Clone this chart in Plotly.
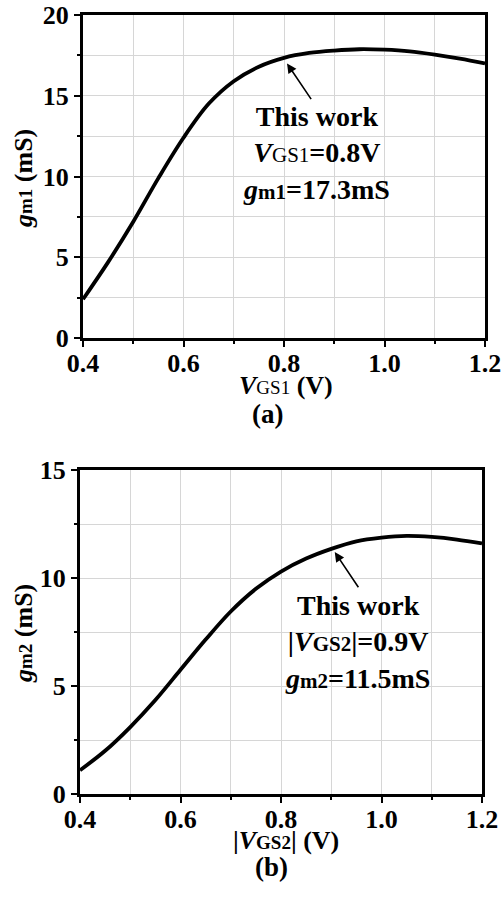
import plotly.graph_objects as go

# ---- data ----
vgs1 = [0.40, 0.45, 0.50, 0.55, 0.60, 0.65, 0.70, 0.75, 0.80, 0.85, 0.90, 0.95, 1.00, 1.05, 1.10, 1.15, 1.20]
gm1 = [2.4, 4.7, 7.2, 9.9, 12.4, 14.5, 15.9, 16.8, 17.35, 17.65, 17.8, 17.88, 17.85, 17.75, 17.55, 17.3, 17.0]

vgs2 = [0.40, 0.45, 0.50, 0.55, 0.60, 0.65, 0.70, 0.75, 0.80, 0.85, 0.90, 0.95, 1.00, 1.05, 1.10, 1.15, 1.20]
gm2 = [1.1, 2.0, 3.1, 4.35, 5.75, 7.15, 8.45, 9.5, 10.3, 10.9, 11.35, 11.7, 11.87, 11.95, 11.9, 11.78, 11.6]

x_ticks = [0.4, 0.6, 0.8, 1.0, 1.2]
x_ticklabels = ["0.4", "0.6", "0.8", "1.0", "1.2"]
y1_ticks = [0, 5, 10, 15, 20]
y2_ticks = [0, 5, 10, 15]

FONT = "Liberation Serif, Times New Roman, serif"
W, H = 502, 898

def px_x(p):
    return p / W

def px_y(p):
    return (H - p) / H

fig = go.Figure()
fig.add_trace(go.Scatter(x=vgs1, y=gm1, mode="lines", line=dict(color="black", width=3.8, shape="spline"),
                         xaxis="x", yaxis="y", showlegend=False, hoverinfo="skip"))
fig.add_trace(go.Scatter(x=vgs2, y=gm2, mode="lines", line=dict(color="black", width=3.8, shape="spline"),
                         xaxis="x2", yaxis="y2", showlegend=False, hoverinfo="skip"))

def xaxis(domain, anchor):
    return dict(domain=domain, anchor=anchor, range=[0.4, 1.2], tickvals=x_ticks, ticktext=x_ticklabels,
                automargin=False, ticklabelstandoff=-6,
                showline=True, linecolor="black", linewidth=3, mirror=True,
                ticks="outside", ticklen=6, tickwidth=2, tickcolor="black",
                showgrid=True, gridcolor="#d6d6d6", gridwidth=1, zeroline=False,
                minor=dict(dtick=0.1, tick0=0.4, ticks="outside", ticklen=3, tickwidth=2, tickcolor="black",
                           showgrid=True, gridcolor="#d6d6d6", gridwidth=1),
                tickfont=dict(family=FONT, size=26, color="black", weight="bold"), fixedrange=True)

def yaxis(domain, anchor, rng, ticks):
    return dict(domain=domain, anchor=anchor, range=rng, tickvals=ticks,
                automargin=False,
                showline=True, linecolor="black", linewidth=3, mirror=True,
                ticks="outside", ticklen=6, tickwidth=2, tickcolor="black",
                showgrid=True, gridcolor="#d6d6d6", gridwidth=1, zeroline=False,
                minor=dict(dtick=2.5, tick0=0, ticks="outside", ticklen=3, tickwidth=2, tickcolor="black",
                           showgrid=True, gridcolor="#d6d6d6", gridwidth=1),
                tickfont=dict(family=FONT, size=26, color="black", weight="bold"), fixedrange=True)

fig.update_layout(
    width=W, height=H, margin=dict(l=0, r=0, t=0, b=0, autoexpand=False),
    paper_bgcolor="white", plot_bgcolor="white",
    font=dict(family=FONT, color="black"),
    xaxis=xaxis([px_x(83), px_x(485)], "y"),
    yaxis=yaxis([px_y(338), px_y(15)], "x", [0, 20], y1_ticks),
    xaxis2=xaxis([px_x(80), px_x(482)], "y2"),
    yaxis2=yaxis([px_y(794), px_y(470)], "x2", [0, 15], y2_ticks),
)

sub = "font-size:19px"
ann = []
# x titles
ann.append(dict(text=f"<b><i>V</i></b><span style='{sub}'>GS1</span><b> (V)</b>", x=px_x(286), y=px_y(385),
                xref="paper", yref="paper", showarrow=False, xanchor="center", yanchor="middle",
                font=dict(family=FONT, size=26, color="black")))
ann.append(dict(text="<b>(a)</b>", x=px_x(267), y=px_y(414), xref="paper", yref="paper", showarrow=False,
                xanchor="center", yanchor="middle", font=dict(family=FONT, size=27, color="black")))
ann.append(dict(text=f"<b>|<i>V</i></b><span style='{sub}'><b>GS2</b></span><b>| (V)</b>", x=px_x(286), y=px_y(840),
                xref="paper", yref="paper", showarrow=False, xanchor="center", yanchor="middle",
                font=dict(family=FONT, size=26, color="black")))
ann.append(dict(text="<b>(b)</b>", x=px_x(271), y=px_y(867), xref="paper", yref="paper", showarrow=False,
                xanchor="center", yanchor="middle", font=dict(family=FONT, size=27, color="black")))
# y titles
ann.append(dict(text=f"<b><i>g</i></b><span style='{sub}'><b>m1</b></span><b> (mS)</b>", x=px_x(23), y=px_y(179),
                xref="paper", yref="paper", showarrow=False, xanchor="center", yanchor="middle", textangle=-90,
                font=dict(family=FONT, size=26, color="black")))
ann.append(dict(text=f"<b><i>g</i></b><span style='{sub}'><b>m2</b></span><b> (mS)</b>", x=px_x(23), y=px_y(634),
                xref="paper", yref="paper", showarrow=False, xanchor="center", yanchor="middle", textangle=-90,
                font=dict(family=FONT, size=26, color="black")))
# text blocks
asub = "font-size:21px"
ann.append(dict(text=(f"<b>This work</b><br><b><i>V</i></b><span style='{asub}'>GS1</span><b>=0.8V</b><br>"
                      f"<b><i>g</i></b><span style='{asub}'><b>m1</b></span><b>=17.3mS</b>"),
                x=px_x(316), y=px_y(153), xref="paper", yref="paper", showarrow=False,
                xanchor="center", yanchor="middle", align="center",
                font=dict(family=FONT, size=28, color="black")))
ann.append(dict(text=(f"<b>This work</b><br><b>|<i>V</i></b><span style='{asub}'><b>GS2</b></span><b>|=0.9V</b><br>"
                      f"<b><i>g</i></b><span style='{asub}'><b>m2</b></span><b>=11.5mS</b>"),
                x=px_x(357), y=px_y(642), xref="paper", yref="paper", showarrow=False,
                xanchor="center", yanchor="middle", align="center",
                font=dict(family=FONT, size=28, color="black")))
# arrows
ann.append(dict(text="", x=0.806, y=17.0, ax=0.856, ay=14.7, xref="x", yref="y", axref="x", ayref="y",
                showarrow=True, arrowhead=2, arrowsize=1.2, arrowwidth=1.6, arrowcolor="black"))
ann.append(dict(text="", x=0.907, y=11.2, ax=0.956, ay=9.5, xref="x2", yref="y2", axref="x2", ayref="y2",
                showarrow=True, arrowhead=2, arrowsize=1.2, arrowwidth=1.6, arrowcolor="black"))
fig.update_layout(annotations=ann)

fig.write_html("out.html")
